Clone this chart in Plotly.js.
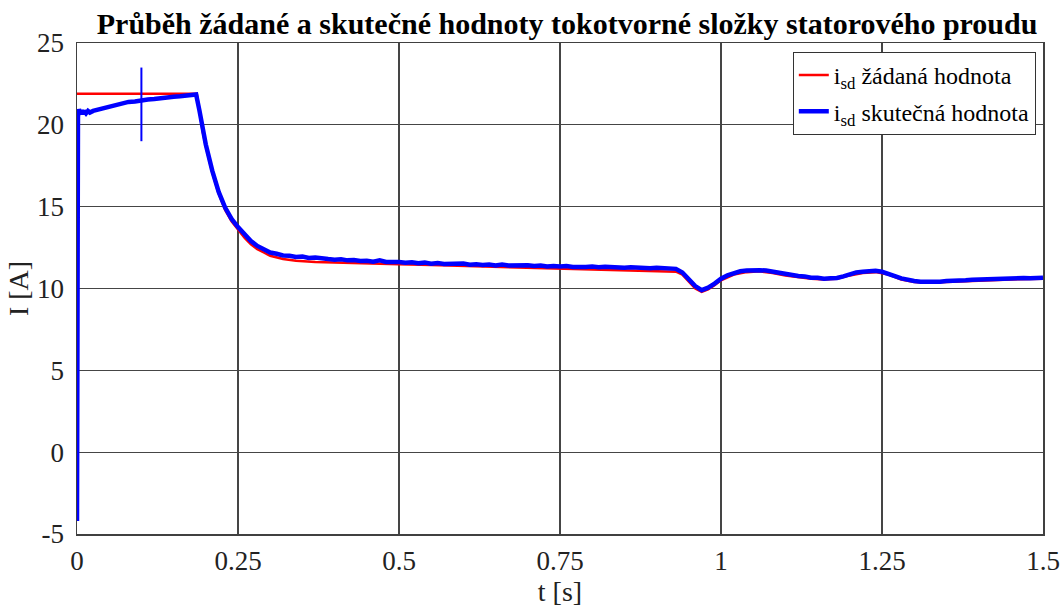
<!DOCTYPE html>
<html>
<head>
<meta charset="utf-8">
<script src="https://cdn.plot.ly/plotly-3.0.1.min.js"></script>
<style>html,body{margin:0;padding:0;background:#fff;}#chart{width:1062px;height:609px;}</style>
</head>
<body>
<div id="chart"></div>
<script>
// Reference (žádaná) current
const tRef = [0, 0.186, 0.19, 0.195, 0.2, 0.21, 0.22, 0.23, 0.24, 0.25, 0.26, 0.27, 0.28, 0.29, 0.30, 0.32, 0.34, 0.37, 0.40, 0.45, 0.50, 0.55, 0.60, 0.65, 0.70, 0.75, 0.80, 0.85, 0.90, 0.93, 0.94, 0.95, 0.96, 0.97, 0.98, 0.99, 1.00, 1.02, 1.04, 1.06, 1.08, 1.10, 1.12, 1.14, 1.16, 1.18, 1.20, 1.22, 1.24, 1.26, 1.28, 1.30, 1.32, 1.35, 1.40, 1.45, 1.50];
const iRef = [21.9, 21.9, 20.9, 19.6, 18.7, 17.1, 15.8, 14.8, 14.1, 13.6, 13.1, 12.7, 12.4, 12.2, 12.0, 11.8, 11.7, 11.62, 11.58, 11.52, 11.48, 11.43, 11.38, 11.33, 11.28, 11.23, 11.18, 11.12, 11.08, 11.03, 10.85, 10.45, 10.0, 9.8, 9.95, 10.2, 10.5, 10.85, 11.0, 11.05, 10.95, 10.8, 10.7, 10.6, 10.55, 10.6, 10.8, 10.95, 11.0, 10.85, 10.55, 10.4, 10.35, 10.4, 10.5, 10.55, 10.6];

const tAct = [0, 0.0005, 0.0015, 0.003, 0.005, 0.007, 0.009, 0.011, 0.014, 0.017, 0.02, 0.025, 0.03, 0.035, 0.04, 0.05, 0.06, 0.07, 0.08, 0.09, 0.10, 0.11, 0.12, 0.13, 0.14, 0.15, 0.16, 0.17, 0.18, 0.185,
  0.19, 0.195, 0.20, 0.21, 0.22, 0.23, 0.24, 0.25, 0.26, 0.27, 0.28, 0.29,
  0.30, 0.31, 0.32, 0.33, 0.34, 0.35, 0.36, 0.37, 0.38, 0.39,
  0.40, 0.41, 0.42, 0.43, 0.44, 0.45, 0.46, 0.47, 0.48, 0.49,
  0.50, 0.51, 0.52, 0.53, 0.54, 0.55, 0.56, 0.57, 0.58, 0.59,
  0.60, 0.61, 0.62, 0.63, 0.64, 0.65, 0.66, 0.67, 0.68, 0.69,
  0.70, 0.71, 0.72, 0.73, 0.74, 0.75, 0.76, 0.77, 0.78, 0.79,
  0.80, 0.81, 0.82, 0.83, 0.84, 0.85, 0.86, 0.87, 0.88, 0.89,
  0.90, 0.91, 0.92, 0.93, 0.94, 0.95, 0.96, 0.97, 0.98, 0.99,
  1.00, 1.01, 1.02, 1.03, 1.04, 1.05, 1.06, 1.07, 1.08, 1.09,
  1.10, 1.11, 1.12, 1.13, 1.14, 1.15, 1.16, 1.17, 1.18, 1.19,
  1.20, 1.21, 1.22, 1.23, 1.24, 1.25, 1.26, 1.27, 1.28, 1.29,
  1.30, 1.31, 1.32, 1.33, 1.34, 1.35, 1.36, 1.37, 1.38, 1.39,
  1.40, 1.41, 1.42, 1.43, 1.44, 1.45, 1.46, 1.47, 1.48, 1.49, 1.50];
const iAct = [-4.2, 8.0, 20.5, 20.95, 20.7, 20.9, 20.65, 20.85, 20.7, 20.85, 20.75, 20.85, 20.9, 21.0, 21.05, 21.15, 21.25, 21.3, 21.4, 21.42, 21.5, 21.55, 21.58, 21.65, 21.66, 21.72, 21.74, 21.8, 21.82, 21.85,
  20.9, 19.7, 18.8, 17.2, 15.9, 14.95, 14.25, 13.75, 13.3, 12.9, 12.6, 12.4,
  12.2, 12.12, 12.02, 12.0, 11.93, 11.95, 11.86, 11.9, 11.82, 11.8,
  11.76, 11.78, 11.72, 11.74, 11.68, 11.7, 11.64, 11.72, 11.62, 11.64,
  11.62, 11.58, 11.6, 11.54, 11.58, 11.52, 11.56, 11.5, 11.52, 11.48,
  11.52, 11.45, 11.48, 11.44, 11.46, 11.4, 11.46, 11.4, 11.42, 11.38,
  11.42, 11.37, 11.4, 11.34, 11.38, 11.35, 11.37, 11.32, 11.35, 11.32,
  11.34, 11.3, 11.33, 11.3, 11.3, 11.27, 11.3, 11.26, 11.28, 11.24,
  11.27, 11.24, 11.25, 11.2, 10.98, 10.6, 10.15, 9.9, 10.05, 10.3,
  10.6, 10.8, 10.95, 11.05, 11.1, 11.14, 11.12, 11.1, 11.02, 10.96,
  10.88, 10.82, 10.76, 10.74, 10.66, 10.66, 10.6, 10.62, 10.64, 10.74,
  10.88, 10.98, 11.02, 11.08, 11.08, 11.02, 10.92, 10.76, 10.62, 10.52,
  10.46, 10.42, 10.4, 10.42, 10.42, 10.46, 10.46, 10.5, 10.5, 10.54,
  10.56, 10.58, 10.58, 10.62, 10.6, 10.62, 10.62, 10.64, 10.62, 10.64, 10.65];

// Vertical marker at t = 0.1
const tMark = [0.1, 0.1];
const iMark = [19.0, 23.5];

const xTicks = [0, 0.25, 0.5, 0.75, 1, 1.25, 1.5];
const xTickText = ["0", "0.25", "0.5", "0.75", "1", "1.25", "1.5"];
const yTicks = [-5, 0, 5, 10, 15, 20, 25];
const yTickText = ["-5", "0", "5", "10", "15", "20", "25"];

const serif = "Liberation Serif";

const traces = [
  {x: tRef, y: iRef, type: "scatter", mode: "lines", name: "i<sub>sd</sub> žádaná hodnota",
   legendgroup: "a", line: {color: "#ff0000", width: 2.5}},
  {x: tAct, y: iAct, type: "scatter", mode: "lines", name: "i<sub>sd</sub> skutečná hodnota",
   legendgroup: "b", line: {color: "#0000ff", width: 4.5}},
  {x: tMark, y: iMark, type: "scatter", mode: "lines", showlegend: false, legendgroup: "b",
   line: {color: "#0000ff", width: 2}}
];

const layout = {
  width: 1062, height: 609,
  margin: {l: 77, r: 19, t: 43, b: 75},
  paper_bgcolor: "#fff", plot_bgcolor: "#fff",
  title: {text: "<b>Průběh žádané a skutečné hodnoty tokotvorné složky statorového proudu</b>",
          font: {family: serif, size: 30, color: "#000"}, x: 0.534, xanchor: "center", y: 0.961, yanchor: "middle"},
  xaxis: {range: [0, 1.5], tickvals: xTicks, ticktext: xTickText, ticklabelstandoff: 2,
          showgrid: true, gridcolor: "#454545", gridwidth: 1.3,
          showline: true, mirror: true, linecolor: "#404040", linewidth: 1.5,
          zeroline: false,
          tickfont: {family: serif, size: 27, color: "#222"},
          title: {text: "t [s]", font: {family: serif, size: 28, color: "#222"}, standoff: 0}},
  yaxis: {range: [-5, 25], tickvals: yTicks, ticktext: yTickText, ticklabelstandoff: 6,
          showgrid: true, gridcolor: "#454545", gridwidth: 1.3,
          showline: true, mirror: true, linecolor: "#404040", linewidth: 1.5,
          zeroline: false,
          tickfont: {family: serif, size: 27, color: "#222"},
          title: {text: "I [A]", font: {family: serif, size: 28, color: "#222"}, standoff: 0}},
  showlegend: true,
  legend: {x: 0.741, y: 0.982, xanchor: "left", yanchor: "top",
           bgcolor: "#fff", bordercolor: "#333", borderwidth: 1,
           font: {family: serif, size: 24, color: "#000"}, itemwidth: 30, tracegroupgap: 2}
};

Plotly.newPlot("chart", traces, layout, {displayModeBar: false, staticPlot: true});
</script>
</body>
</html>
